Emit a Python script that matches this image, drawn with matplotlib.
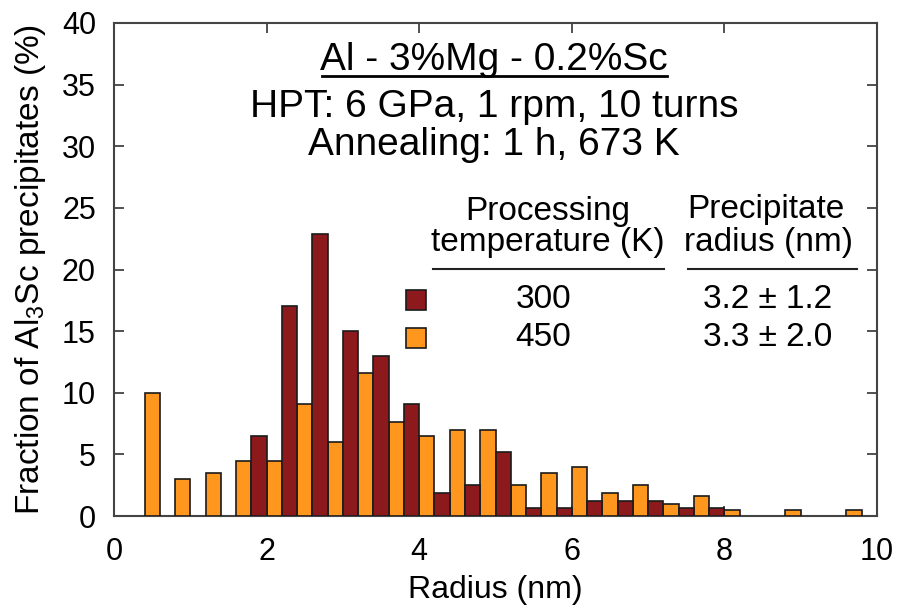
import numpy as np
import matplotlib
matplotlib.use("Agg")
import matplotlib.pyplot as plt
from matplotlib.patches import Rectangle
from matplotlib.lines import Line2D

plt.rcParams['font.family'] = ['Liberation Sans', 'DejaVu Sans']
plt.rcParams['mathtext.fontset'] = 'custom'
plt.rcParams['mathtext.rm'] = 'Liberation Sans'

# bins of 0.4 nm, left edges
bin_left = [0.4, 0.8, 1.2, 1.6, 2.0, 2.4, 2.8, 3.2, 3.6, 4.0, 4.4, 4.8,
            5.2, 5.6, 6.0, 6.4, 6.8, 7.2, 7.6, 8.0, 8.4, 8.8, 9.2, 9.6]
frac_450 = [10.0, 3.0, 3.5, 4.5, 4.5, 9.1, 6.0, 11.6, 7.6, 6.5, 7.0, 7.0,
            2.5, 3.5, 4.0, 1.9, 2.5, 1.0, 1.6, 0.5, 0.0, 0.5, 0.0, 0.5]
frac_300 = [0.0, 0.0, 0.0, 6.5, 17.0, 22.9, 15.0, 13.0, 9.1, 1.9, 2.5, 5.2,
            0.63, 0.63, 1.25, 1.25, 1.25, 0.63, 0.63, 0.0, 0.0, 0.0, 0.0, 0.0]
temps = ['300', '450']
radii = ['3.2 ± 1.2', '3.3 ± 2.0']

c_300 = '#8c1a1d'
c_450 = '#ff961e'
edge = '#1a1a1a'

W, H = 897, 614
fig = plt.figure(figsize=(W / 100, H / 100), dpi=100)
ax = fig.add_axes([114 / W, 1 - 516 / H, (877 - 114) / W, (516 - 23) / H])

x = np.array(bin_left)
o = np.array(frac_450)
r = np.array(frac_300)
m_o = o > 0
m_r = r > 0
ax.bar(x[m_o], o[m_o], width=0.2, align='edge', color=c_450, edgecolor=edge, linewidth=1.2, zorder=3)
ax.bar(x[m_r] + 0.2, r[m_r], width=0.2, align='edge', color=c_300, edgecolor=edge, linewidth=1.2, zorder=3)

ax.set_xlim(0, 10)
ax.set_ylim(0, 40)
ax.set_xticks([0, 2, 4, 6, 8, 10])
ax.set_yticks(range(0, 41, 5))
ax.tick_params(direction='in', top=True, right=True, length=7, width=1.2,
               labelsize=22, color='#333333')
ax.tick_params(axis='x', pad=15)
ax.tick_params(axis='y', pad=13)
for s in ax.spines.values():
    s.set_color('#444444')
    s.set_linewidth(1.5)
ax.set_xlabel('Radius (nm)', fontsize=23, labelpad=6)
ax.set_ylabel(r'Fraction of Al$_3$Sc precipitates (%)', fontsize=24, labelpad=10)


def fx(px):
    return px / W


def fy(py):
    return 1 - py / H


# header text
fig.text(fx(494), fy(60), 'Al - 3%Mg - 0.2%Sc', fontsize=28, ha='center', va='center')
fig.add_artist(Line2D([fx(322), fx(667)], [fy(76), fy(76)], color='black', lw=2))
fig.text(fx(494), fy(107), 'HPT: 6 GPa, 1 rpm, 10 turns', fontsize=28, ha='center', va='center')
fig.text(fx(494), fy(145), 'Annealing: 1 h, 673 K', fontsize=28, ha='center', va='center')

# table
fig.text(fx(548), fy(212), 'Processing', fontsize=24, ha='center', va='center')
fig.text(fx(548), fy(243), 'temperature (K)', fontsize=24, ha='center', va='center')
fig.text(fx(766), fy(210), 'Precipitate', fontsize=24, ha='center', va='center')
fig.text(fx(768), fy(243), 'radius (nm)', fontsize=24, ha='center', va='center')
fig.add_artist(Line2D([fx(433), fx(664)], [fy(269), fy(269)], color='#222222', lw=1.5))
fig.add_artist(Line2D([fx(688), fx(857)], [fy(269), fy(269)], color='#222222', lw=1.5))

for i, (t, rr, c) in enumerate(zip(temps, radii, [c_300, c_450])):
    yc = 300 + i * 38
    fig.add_artist(Rectangle((fx(406), fy(yc + 10)), 20 / W, 20 / H, facecolor=c,
                             edgecolor=edge, linewidth=1.2))
    fig.text(fx(543), fy(yc), t, fontsize=24, ha='center', va='center')
    fig.text(fx(768), fy(yc), rr, fontsize=24, ha='center', va='center')

fig.savefig('out.png', dpi=100)
